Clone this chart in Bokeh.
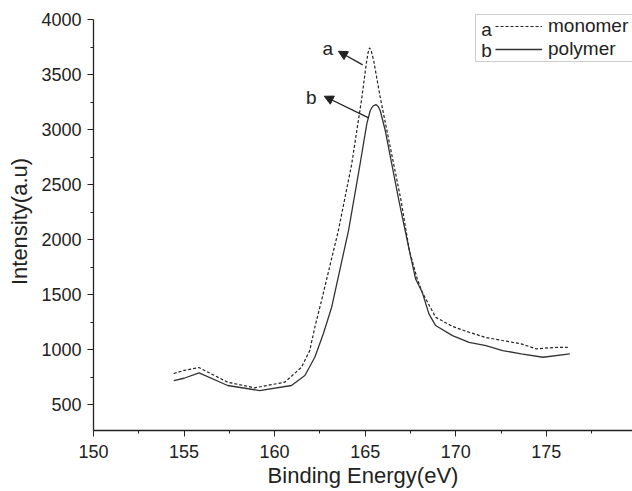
from bokeh.plotting import figure
from bokeh.models import (Range1d, Arrow, NormalHead, Label, Legend, LegendItem,
                          BoxAnnotation, FixedTicker)
from bokeh.embed import file_html
from bokeh.resources import INLINE

# ---- data ----
energy_monomer = [154.43, 155.0, 155.82, 157.41, 158.89, 160.56, 161.48, 161.94, 162.22,
                  162.59, 163.52, 164.26, 164.82, 165.06, 165.16, 165.24, 165.34, 165.47,
                  165.83, 166.2, 166.98, 167.44, 167.87, 168.15, 168.89, 169.82, 170.74,
                  171.65, 172.59, 173.61, 174.44, 175.37, 176.3]
intensity_monomer = [782, 810, 836, 703, 652, 703, 839, 991, 1203,
                     1445, 2082, 2688, 3294, 3597, 3700, 3743, 3712, 3627,
                     3294, 2991, 2355, 1900, 1645, 1521, 1294, 1210, 1157,
                     1110, 1082, 1052, 1006, 1018, 1021]

energy_polymer = [154.43, 155.0, 155.83, 157.41, 159.17, 160.93, 161.67, 162.22, 162.69,
                  163.15, 164.08, 164.72, 165.09, 165.28, 165.42, 165.59, 165.72, 165.83,
                  166.11, 166.86, 167.44, 167.78, 168.15, 168.52, 168.89, 169.82, 170.74,
                  171.67, 172.59, 173.61, 174.82, 176.3]
intensity_polymer = [718, 739, 788, 673, 627, 673, 764, 930, 1143,
                     1385, 2082, 2688, 3052, 3173, 3212, 3227, 3210, 3173,
                     2991, 2355, 1900, 1645, 1521, 1324, 1218, 1127, 1066,
                     1036, 991, 961, 930, 961]

x_ticks = [150, 155, 160, 165, 170, 175]
y_ticks = [500, 1000, 1500, 2000, 2500, 3000, 3500, 4000]

x_title = "Binding Energy(eV)"
y_title = "Intensity(a.u)"

# annotation arrows
arrow_labels = ["a", "b"]
arrow_label_x = [162.93, 162.02]
arrow_label_y = [3736, 3294]
arrow_tail_x = [164.86, 165.19]
arrow_tail_y = [3588, 3106]
arrow_head_x = [163.52, 162.74]
arrow_head_y = [3712, 3303]

legend_letters = ["a", "b"]
legend_names = ["monomer", "polymer"]

FONT = "Liberation Sans"
INK = "#222222"

p = figure(width=632, height=491, output_backend="svg", toolbar_location=None,
           x_range=Range1d(150, 179.76), y_range=Range1d(264, 4064),
           min_border_left=93, min_border_right=0, min_border_top=12, min_border_bottom=61)
p.outline_line_color = None
p.grid.visible = False
p.background_fill_color = "white"

mono = p.line(energy_monomer, intensity_monomer, line_color=INK, line_width=1.2,
              line_dash="3 2")
poly = p.line(energy_polymer, intensity_polymer, line_color="#333333", line_width=1.3)

# axes
for ax in (p.xaxis[0], p.yaxis[0]):
    ax.axis_line_color = INK
    ax.axis_line_width = 1.3
    ax.major_tick_line_color = INK
    ax.minor_tick_line_color = INK
    ax.major_tick_out = 6
    ax.major_tick_in = 0
    ax.minor_tick_out = 3
    ax.minor_tick_in = 0
    ax.major_label_text_font = FONT
    ax.major_label_text_font_size = "18px"
    ax.major_label_text_color = INK
    ax.axis_label_text_font = FONT
    ax.axis_label_text_font_size = "22px"
    ax.axis_label_text_font_style = "normal"
    ax.axis_label_text_color = INK

p.xaxis.ticker = FixedTicker(ticks=x_ticks, minor_ticks=[v + 2.5 for v in x_ticks])
p.yaxis.ticker = FixedTicker(ticks=y_ticks, minor_ticks=[v + 250 for v in y_ticks[:-1]])
p.yaxis.bounds = (264, 4000)
p.xaxis.axis_label = x_title
p.yaxis.axis_label = y_title
p.xaxis.major_label_standoff = 8
p.yaxis.major_label_standoff = 6
p.xaxis.axis_label_standoff = 2
p.yaxis.axis_label_standoff = 6

# arrows + letters
for i in range(len(arrow_labels)):
    p.add_layout(Arrow(x_start=arrow_tail_x[i], y_start=arrow_tail_y[i],
                       x_end=arrow_head_x[i], y_end=arrow_head_y[i],
                       line_color=INK, line_width=1.3,
                       end=NormalHead(size=9, fill_color=INK, line_color=INK)))
    p.add_layout(Label(x=arrow_label_x[i], y=arrow_label_y[i], text=arrow_labels[i],
                       text_font=FONT, text_font_size="19px", text_color=INK,
                       text_align="center", text_baseline="middle"))

# legend box (screen units relative to frame)
p.add_layout(BoxAnnotation(left=382, right=545, top=416, bottom=369,
                           left_units="screen", right_units="screen",
                           top_units="screen", bottom_units="screen",
                           fill_color="white", fill_alpha=1.0,
                           line_color="#555555", line_width=1, level="overlay"))
legend = Legend(items=[LegendItem(label=legend_names[0], renderers=[mono]),
                       LegendItem(label=legend_names[1], renderers=[poly])],
                location=(402, 370), margin=0, padding=0, spacing=1,
                glyph_width=47, glyph_height=20, label_height=20, label_standoff=6,
                label_text_font=FONT, label_text_font_size="19px",
                label_text_color=INK, border_line_alpha=0, background_fill_alpha=0)
p.add_layout(legend, "center")
for i, letter in enumerate(legend_letters):
    p.add_layout(Label(x=393, y=401 - 21 * i, text=letter, x_units="screen",
                       y_units="screen", text_font=FONT, text_font_size="19px",
                       text_color=INK, text_align="center", text_baseline="middle",
                       level="overlay"))

open("out.html", "w").write(file_html(p, INLINE))
